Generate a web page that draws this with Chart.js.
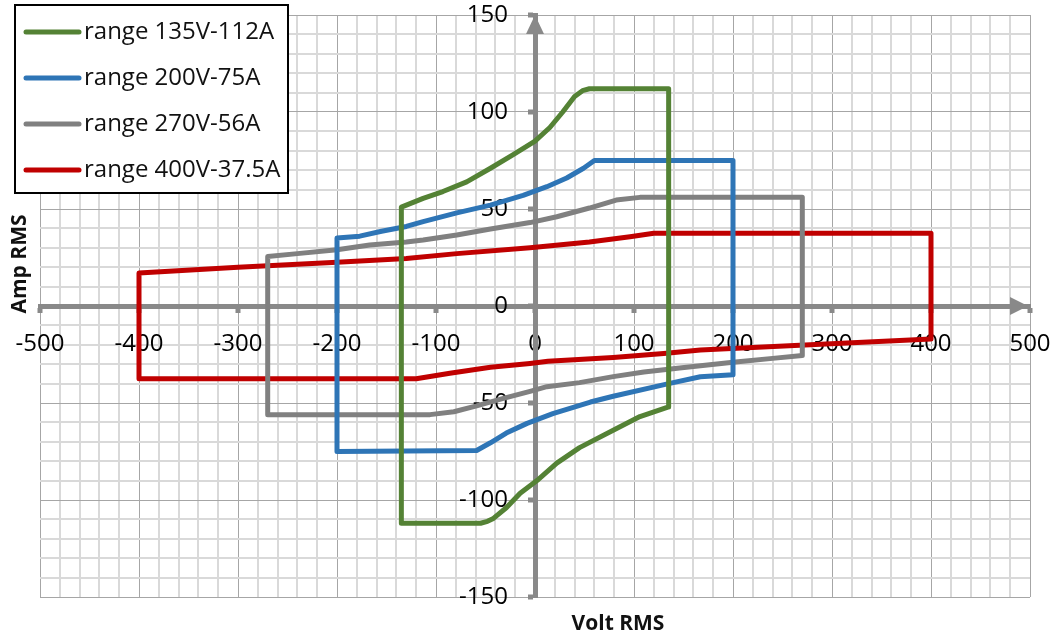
<!DOCTYPE html>
<html>
<head>
<meta charset="utf-8">
<script src="https://cdn.jsdelivr.net/npm/chart.js@4/dist/chart.umd.min.js"></script>
<style>
  html, body { margin: 0; padding: 0; background: #fff; }
  canvas { display: block; }
</style>
</head>
<body>
<canvas id="grafico" width="1056" height="639"></canvas>
<script>
// Series labels and colours
const seriesLabels = ['range 135V-112A', 'range 200V-75A', 'range 270V-56A', 'range 400V-37.5A'];
const seriesColors = ['#548235', '#2E75B6', '#808080', '#C00000'];

// range 135V-112A (closed loop, volt / amp)
const volt135 = [-135, -135, -113, -93, -69, -45, -22, 0, 15, 28, 40, 48, 55, 135, 135, 106, 79, 45, 22, 2, -15, -29, -42, -48, -55, -135];
const amp135 = [-112, 51, 55.5, 59, 64, 71, 78, 85, 92, 100, 108, 111, 112, 112, -52, -57, -64, -73, -81, -90, -96.5, -104, -109.5, -111, -112, -112];

// range 200V-75A
const volt200 = [-200, -200, -177, -155, -130, -113, -79, -45, -12, 12, 32, 49, 60, 200, 200, 167, 135, 79, 56, 18, -8, -29, -45, -59, -200];
const amp200 = [-75, 35, 36, 38.5, 41, 43.5, 48, 52, 57, 61.5, 66, 71, 75, 75, -35.5, -36.5, -40, -46.5, -49.5, -55.5, -60.5, -65.5, -70.5, -74.5, -75];

// range 270V-56A
const volt270 = [-270, -270, -240, -200, -167, -130, -113, -79, -45, -5, 22, 55, 82, 106, 270, 270, 240, 200, 146, 110, 79, 45, 12, -5, -32, -59, -82, -106, -270];
const amp270 = [-56, 25.5, 27, 29, 31.4, 33, 34, 36.6, 39.7, 43, 46, 50.5, 54.6, 56, 56, -25.5, -27, -29, -32, -34, -36.4, -39.5, -41.6, -44, -47.6, -51.5, -54.5, -56, -56];

// range 400V-37.5A
const volt400 = [-400, -400, -300, -200, -130, -79, -5, 55, 96, 120, 400, 400, 278, 167, 130, 79, 13, -5, -45, -86, -120, -400];
const amp400 = [-37.5, 17, 20, 22.5, 24.5, 27, 30, 33, 35.7, 37.5, 37.5, -17, -20, -22.7, -24.5, -26.5, -28.5, -29.6, -31.6, -34.7, -37.5, -37.5];

// Axis ticks
const xTickStep = 20;
const xMajorStep = 100;
const yTickStep = 10;
const yMajorStep = 50;

const volts = [volt135, volt200, volt270, volt400];
const amps = [amp135, amp200, amp270, amp400];

const axisGray = '#898989';

function montarPontos(vs, as) {
  return vs.map((v, i) => ({ x: v, y: as[i] }));
}

const datasets = seriesLabels.map((label, i) => ({
  label: label,
  data: montarPontos(volts[i], amps[i]),
  borderColor: seriesColors[i],
  backgroundColor: seriesColors[i],
  showLine: true,
  fill: false
}));

// Arrows and tick squares on the axes, axis titles and boxed legend
const extras = {
  id: 'extras',
  beforeDatasetsDraw(chart) {
    const { ctx, scales: { x, y } } = chart;
    const x0 = x.getPixelForValue(0);
    const y0 = y.getPixelForValue(0);
    ctx.save();
    ctx.fillStyle = axisGray;
    // small square ticks at the major values
    x.ticks.forEach(t => {
      if (t.value % xMajorStep === 0) {
        ctx.fillRect(x.getPixelForValue(t.value) - 2.5, y0 + 2, 5, 5);
      }
    });
    y.ticks.forEach(t => {
      if (t.value % yMajorStep === 0) {
        ctx.fillRect(x0 - 7, y.getPixelForValue(t.value) - 2.5, 5, 5);
      }
    });
    ctx.beginPath();
    ctx.moveTo(x0, y.top);
    ctx.lineTo(x0 - 9, y.top + 19);
    ctx.lineTo(x0 + 9, y.top + 19);
    ctx.closePath();
    ctx.fill();
    ctx.beginPath();
    ctx.moveTo(x.right - 2, y0);
    ctx.lineTo(x.right - 20, y0 - 9);
    ctx.lineTo(x.right - 20, y0 + 9);
    ctx.closePath();
    ctx.fill();
    ctx.restore();
  },
  afterDraw(chart) {
    const { ctx } = chart;
    ctx.save();
    // axis titles
    ctx.fillStyle = '#111';
    ctx.font = 'bold 21px "Open Sans"';
    ctx.textAlign = 'center';
    ctx.textBaseline = 'middle';
    ctx.fillText('Volt RMS', 618, 624);
    ctx.translate(20, 264);
    ctx.rotate(-Math.PI / 2);
    ctx.fillText('Amp RMS', 0, 0);
    ctx.restore();

    // legend
    ctx.save();
    ctx.fillStyle = '#fff';
    ctx.fillRect(15, 5, 273, 188);
    ctx.strokeStyle = '#000';
    ctx.lineWidth = 2;
    ctx.strokeRect(15, 5, 273, 188);
    ctx.font = '24px "Open Sans"';
    ctx.textAlign = 'left';
    ctx.textBaseline = 'middle';
    chart.data.datasets.forEach((ds, i) => {
      const ly = 32 + i * 46;
      ctx.strokeStyle = ds.borderColor;
      ctx.lineWidth = 5;
      ctx.lineCap = 'round';
      ctx.beginPath();
      ctx.moveTo(26, ly);
      ctx.lineTo(79, ly);
      ctx.stroke();
      ctx.fillStyle = '#111';
      ctx.fillText(ds.label, 84, ly);
    });
    ctx.restore();
  }
};

Chart.defaults.font.family = '"Open Sans", sans-serif';

const ctx = document.getElementById('grafico').getContext('2d');
const grafico = new Chart(ctx, {
  type: 'scatter',
  data: { datasets: datasets },
  options: {
    responsive: false,
    animation: false,
    devicePixelRatio: 1,
    layout: { padding: { left: 40, right: 26, top: 15, bottom: 42 } },
    plugins: {
      legend: { display: false },
      tooltip: { enabled: false }
    },
    elements: {
      point: { radius: 0 },
      line: { borderWidth: 5, borderJoinStyle: 'round', borderCapStyle: 'round', tension: 0 }
    },
    scales: {
      x: {
        type: 'linear',
        position: 'center',
        min: -500,
        max: 500,
        ticks: {
          stepSize: xTickStep,
          autoSkip: false,
          maxRotation: 0,
          padding: 0,
          color: '#000',
          font: { size: 24 },
          callback: v => (v % xMajorStep === 0 ? v : '')
        },
        grid: {
          color: c => (c.tick && c.tick.value % xMajorStep === 0 ? '#a6a6a6' : '#d9d9d9'),
          lineWidth: c => (c.tick && c.tick.value % xMajorStep === 0 ? 1 : 2),
          tickColor: 'rgba(0,0,0,0)',
          tickLength: 24
        },
        border: { color: axisGray, width: 5 }
      },
      y: {
        type: 'linear',
        position: 'center',
        min: -150,
        max: 150,
        ticks: {
          stepSize: yTickStep,
          autoSkip: false,
          padding: 0,
          color: '#000',
          font: { size: 24 },
          callback: v => (v % yMajorStep === 0 ? v : '')
        },
        grid: {
          color: c => (c.tick && c.tick.value % yMajorStep === 0 ? '#a6a6a6' : '#d9d9d9'),
          lineWidth: c => (c.tick && c.tick.value % yMajorStep === 0 ? 1 : 2),
          tickColor: 'rgba(0,0,0,0)',
          tickLength: 27
        },
        border: { color: axisGray, width: 5 }
      }
    }
  },
  plugins: [extras]
});
</script>
</body>
</html>
